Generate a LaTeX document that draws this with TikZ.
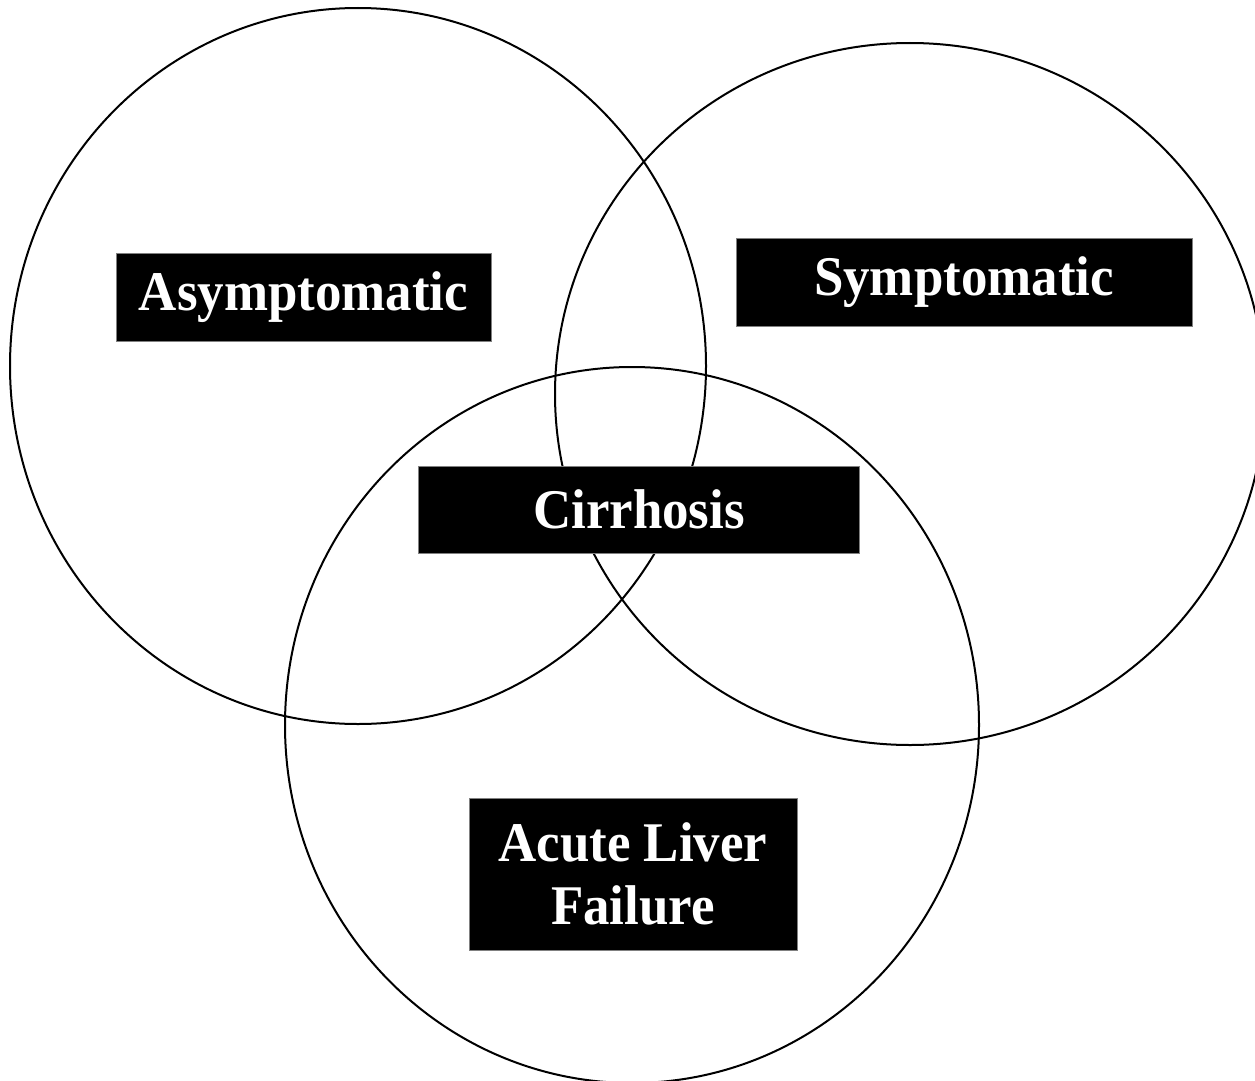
\documentclass[tikz,border=0pt]{standalone}
\usepackage{fontspec}
\setmainfont{Liberation Serif}[FakeStretch=0.945]
\usepackage{tikz}
\usetikzlibrary{shapes.geometric}
\tikzset{
    venn/.style={
           ellipse,
           draw=black, line width=2pt,
           inner sep=0pt,
           },
    category/.style={
           rectangle,
           fill=black,
           draw=gray, line width=0.6pt,
           text=white,
           font=\bfseries\fontsize{56}{63}\selectfont,
           align=center,
           inner sep=0pt,
           },
}

\begin{document}
\begin{tikzpicture}[x=1pt, y=-1pt]
    % page frame, cuts off the circles at the border
    \useasboundingbox (0,0) rectangle (1255,1081);
    \clip (0,0) rectangle (1255,1081);

    % the three sets
    \node[venn, minimum width=696pt, minimum height=716pt] (asymset) at (358,366) {};
    \node[venn, minimum width=710pt, minimum height=702pt] (sympset) at (910,394) {};
    \node[venn, minimum width=694pt, minimum height=716pt] (alfset) at (632,725) {};

    % labels on black boxes (drawn last, over the lines)
    \node[category,
    minimum width=375pt, 	% box width
    minimum height=88pt] (asym) at (303.5,297)
    {Asymptomatic};

    \node[category,
    minimum width=456pt,
    minimum height=88pt] (symp) at (964,282)
    {Symptomatic};

    \node[category,
    minimum width=441pt,
    minimum height=87pt] (cirr) at (639,509.5)
    {Cirrhosis};

    \node[category,
    minimum width=328pt,
    minimum height=152pt] (alf) at (633,874)
    {Acute Liver\\Failure};
\end{tikzpicture}
\end{document}
